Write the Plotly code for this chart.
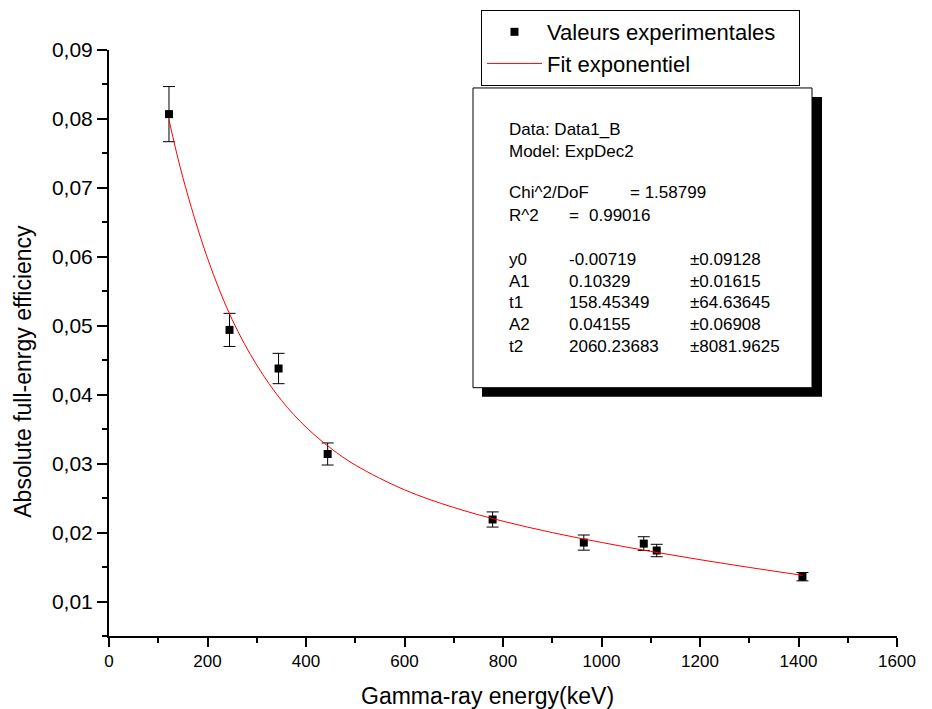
import plotly.graph_objects as go

# ---- data ----
energy_kev = [121.78, 244.70, 344.28, 443.96, 778.90, 964.08, 1085.84, 1112.08, 1408.01]
efficiency = [0.0807, 0.0494, 0.0438, 0.0314, 0.0219, 0.01855, 0.0184, 0.0174, 0.0136]
efficiency_err = [0.0040, 0.0024, 0.0022, 0.0016, 0.0011, 0.0011, 0.0010, 0.0009, 0.0006]

fit_x = [122, 150, 200, 250, 300, 350, 400, 450, 500, 600, 700, 800, 900, 1000, 1100, 1200, 1300, 1408]
fit_y = [0.0798, 0.0715, 0.0598, 0.0509, 0.0443, 0.0392, 0.0353, 0.03225, 0.0298, 0.0262, 0.02364,
         0.02165, 0.0200, 0.01857, 0.01727, 0.01607, 0.01495, 0.0138]

x_ticks = [0, 200, 400, 600, 800, 1000, 1200, 1400, 1600]
y_ticks = [0.01, 0.02, 0.03, 0.04, 0.05, 0.06, 0.07, 0.08, 0.09]

stats_header = ["Data: Data1_B", "Model: ExpDec2"]
param_names = ["y0", "A1", "t1", "A2", "t2"]
param_values = ["-0.00719", "0.10329", "158.45349", "0.04155", "2060.23683"]
param_errors = ["±0.09128", "±0.01615", "±64.63645", "±0.06908", "±8081.9625"]

# ---- layout geometry (pixels in the screenshot; page body has an 8px margin) ----
OFF = 8
W, H = 932 - OFF, 709 - OFF
L, R, T, B = 109, 897, 50, 636.5


def px(x):
    return (x - L) / (R - L)


def py(y):
    return (B - y) / (B - T)


FONT = "Liberation Sans, Arial, sans-serif"

fig = go.Figure()
fig.add_trace(go.Scatter(
    x=energy_kev, y=efficiency, mode="markers", name="Valeurs experimentales\u00a0\u00a0\u00a0",
    marker=dict(symbol="square", size=8, color="black"),
    error_y=dict(type="data", array=efficiency_err, visible=True, color="black", thickness=1, width=6),
))
fig.add_trace(go.Scatter(
    x=fit_x, y=fit_y, mode="lines", name="Fit exponentiel",
    line=dict(color="#ff0000", width=1, shape="spline"),
))

shapes = [
    dict(type="rect", xref="paper", yref="paper", x0=px(482), x1=px(822), y0=py(397), y1=py(97),
         fillcolor="black", line=dict(width=0), layer="above"),
    dict(type="rect", xref="paper", yref="paper", x0=px(473), x1=px(812), y0=py(388), y1=py(88),
         fillcolor="white", line=dict(color="black", width=1), layer="above"),
]

annotations = []


def txt(s, x, y):
    annotations.append(dict(text=s, xref="paper", yref="paper", x=px(x), y=py(y),
                            xanchor="left", yanchor="middle", showarrow=False,
                            font=dict(family=FONT, size=17, color="black")))


txt(stats_header[0], 507, 130)
txt(stats_header[1], 507, 152)
txt("Chi^2/DoF", 507, 193)
txt("= 1.58799", 628, 193)
txt("R^2", 507, 216)
txt("=", 567, 216)
txt("0.99016", 587, 216)
rows_y = [260, 282, 303, 325, 347]
for n, v, e, yy in zip(param_names, param_values, param_errors, rows_y):
    txt(n, 507, yy)
    txt(v, 567, yy)
    txt(e, 688, yy)

# axis titles
annotations.append(dict(text="Gamma-ray energy(keV)", xref="paper", yref="paper",
                        x=px(487), y=py(697), xanchor="center", yanchor="middle", showarrow=False,
                        font=dict(family=FONT, size=23, color="black")))
annotations.append(dict(text="Absolute full-enrgy efficiency", xref="paper", yref="paper",
                        x=px(23), y=py(372), xanchor="center", yanchor="middle", showarrow=False,
                        textangle=-90, font=dict(family=FONT, size=23, color="black")))

fig.update_layout(
    width=W, height=H,
    margin=dict(l=L - OFF, r=932 - R, t=T - OFF, b=709 - B, autoexpand=False),
    paper_bgcolor="white", plot_bgcolor="white",
    separators=",.",
    font=dict(family=FONT, color="black"),
    showlegend=True,
    legend=dict(x=px(481), y=py(10), xanchor="left", yanchor="top",
                bordercolor="black", borderwidth=1, bgcolor="white",
                font=dict(family=FONT, size=22, color="black"),
                itemwidth=55, tracegroupgap=0),
    shapes=shapes,
    annotations=annotations,
    xaxis=dict(range=[0, 1600], tickvals=x_ticks, ticktext=[str(v) for v in x_ticks],
               showgrid=False, zeroline=False, showline=True, linecolor="black", linewidth=2,
               ticks="outside", ticklen=9, tickwidth=2, tickcolor="black",
               minor=dict(dtick=100, tick0=0, ticks="outside", ticklen=5, tickwidth=2, tickcolor="black"),
               tickfont=dict(family=FONT, size=17), automargin=False),
    yaxis=dict(range=[0.005, 0.09], tickvals=y_ticks, tickformat=".2f",
               showgrid=False, zeroline=False, showline=True, linecolor="black", linewidth=2,
               ticks="outside", ticklen=10, tickwidth=2, tickcolor="black",
               minor=dict(dtick=0.005, tick0=0, ticks="outside", ticklen=5, tickwidth=2, tickcolor="black"),
               tickfont=dict(family=FONT, size=21), automargin=False),
)

fig.write_html("out.html")
